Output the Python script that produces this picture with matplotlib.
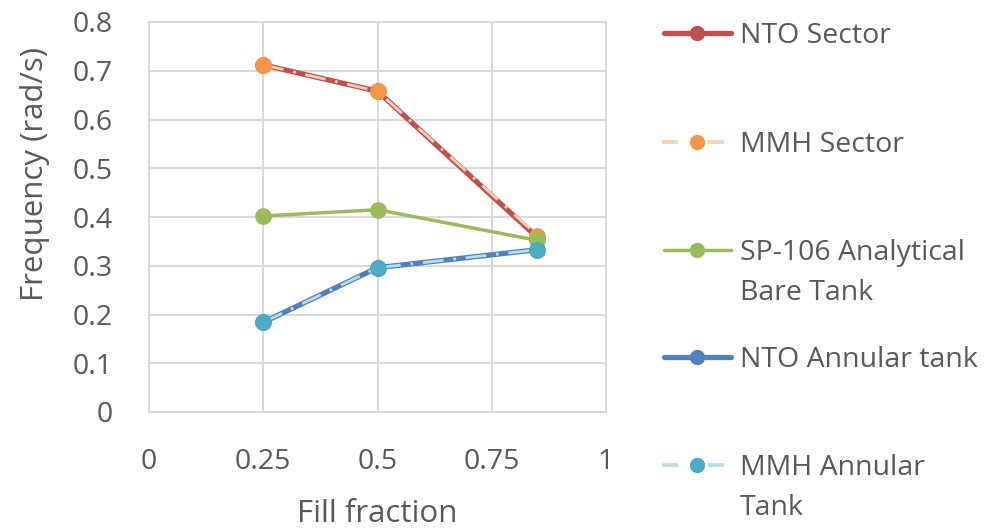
import matplotlib
matplotlib.use("Agg")
import matplotlib.pyplot as plt
from matplotlib.lines import Line2D

plt.rcParams['font.family'] = ['Open Sans', 'DejaVu Sans']

fill = [0.25, 0.5, 0.85]
nto_sector = [0.712, 0.658, 0.358]
mmh_sector = [0.712, 0.658, 0.362]
sp106 = [0.402, 0.415, 0.352]
nto_annular = [0.184, 0.296, 0.333]
mmh_annular = [0.184, 0.296, 0.333]

labels = ["NTO Sector", "MMH Sector", "SP-106 Analytical\nBare Tank",
          "NTO Annular tank", "MMH Annular\nTank"]
series = [nto_sector, mmh_sector, sp106, nto_annular, mmh_annular]
line_colors = ["#C0504D", "#FAD0B0", "#9BBB59", "#4F81BD", "#B7DEE8"]
marker_colors = ["#C0504D", "#F79646", "#9BBB59", "#4F81BD", "#4BACC6"]
line_widths = [3.8, 2.0, 2.5, 3.8, 2.0]
dashed = [False, True, False, False, True]

xticks = [0, 0.25, 0.5, 0.75, 1]
xticklabels = ["0", "0.25", "0.5", "0.75", "1"]
yticks = [0, 0.1, 0.2, 0.3, 0.4, 0.5, 0.6, 0.7, 0.8]
yticklabels = ["0", "0.1", "0.2", "0.3", "0.4", "0.5", "0.6", "0.7", "0.8"]

W, H = 985, 528
fig = plt.figure(figsize=(W / 100, H / 100), dpi=100)
ax = fig.add_axes([149 / W, 1 - 412 / H, (606 - 149) / W, (412 - 22) / H])

txt = "#595959"
grid = "#D9D9D9"
plot_dash = (0, (7.5, 3.5, 1.0, 3.5))

order = [0, 2, 3, 1, 4]
for i in order:
    ls = plot_dash if dashed[i] else "-"
    ax.plot(fill, series[i], linestyle=ls, color=line_colors[i],
            lw=line_widths[i], marker='o', markersize=11,
            markerfacecolor=marker_colors[i], markeredgecolor=marker_colors[i],
            zorder=3 + i, solid_capstyle='round', dash_capstyle='butt')

ax.set_xlim(0, 1)
ax.set_ylim(0, 0.8)
ax.set_xticks(xticks)
ax.set_xticklabels(xticklabels)
ax.set_yticks(yticks)
ax.set_yticklabels(yticklabels)
ax.grid(True, color=grid, lw=1.4)
ax.set_axisbelow(True)
for s in ax.spines.values():
    s.set_color(grid)
    s.set_linewidth(1.4)
ax.tick_params(length=0, labelsize=20.5, colors=txt)
ax.tick_params(axis='x', pad=26)
ax.tick_params(axis='y', pad=26)
ax.set_xlabel("Fill fraction", fontsize=22.5, color=txt, va='center')
ax.set_ylabel("Frequency (rad/s)", fontsize=22.5, color=txt, va='center')
ax.xaxis.set_label_coords(0.5, (412 - 514) / 390)
ax.yaxis.set_label_coords((35 - 149) / 457, (412 - 174) / 390)

# manual legend
leg_y = [33, 142, 250, 357, 465]
for i, lab in enumerate(labels):
    yf = 1 - leg_y[i] / H
    if dashed[i]:
        ln = Line2D([662 / W, 724 / W], [yf, yf], transform=fig.transFigure,
                    color=line_colors[i], lw=line_widths[i] * 1.4,
                    linestyle=(0, (4.1, 7.7)), dash_capstyle='butt')
    else:
        ln = Line2D([664 / W, 731 / W], [yf, yf], transform=fig.transFigure,
                    color=line_colors[i], lw=line_widths[i],
                    solid_capstyle='round')
    fig.add_artist(ln)
    mk = Line2D([697 / W], [yf], transform=fig.transFigure, marker='o',
                markersize=10, color=marker_colors[i], linestyle='none')
    fig.add_artist(mk)
    for j, part in enumerate(lab.split("\n")):
        fig.text(740 / W, 1 - (leg_y[i] + 3 + 40 * j) / H, part, fontsize=20.5,
                 color=txt, va='center', ha='left')

fig.savefig("out.png", dpi=100)
